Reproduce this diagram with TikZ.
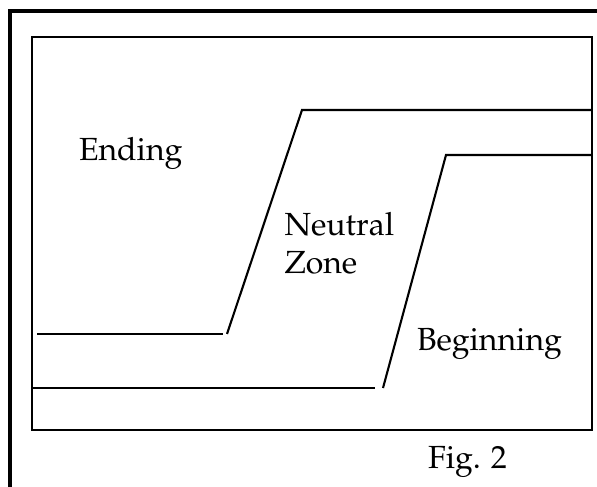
\documentclass[tikz,border=0pt]{standalone}
\usepackage[T1]{fontenc}
\usepackage{mathpazo}
\begin{document}
\begin{tikzpicture}[x=1pt,y=1pt]
\tikzset{
  frameline/.style={line width=3.8pt},
  boxline/.style={line width=1.9pt},
  zoneline/.style={line width=2.1pt},
  lbl/.style={font=\fontsize{32}{38}\selectfont, anchor=base west, inner sep=0pt, outer sep=0pt}
}
\useasboundingbox (0,0) rectangle (597,487);
% outer frame (partial)
\draw[frameline] (10,-5) -- (10,476) -- (602,476);
% inner box
\draw[boxline] (32,57) rectangle (592,450);
% Ending / Neutral boundary
\coordinate (a1) at (37,153);
\coordinate (a2) at (223,153);
\coordinate (a3) at (227,153);
\coordinate (a4) at (302,377);
\coordinate (a5) at (592,377);
\draw[zoneline] (a1) -- (a2);
\draw[zoneline, line join=miter] (a3) -- (a4) -- (a5);
% Neutral / Beginning boundary
\coordinate (b1) at (32,99);
\coordinate (b2) at (375,99);
\coordinate (b3) at (383,99);
\coordinate (b4) at (446,332);
\coordinate (b5) at (592,332);
\draw[zoneline] (b1) -- (b2);
\draw[zoneline, line join=miter] (b3) -- (b4) -- (b5);
% labels
\node[lbl] (ending) at (79,326) {Ending};
\node[lbl] (neutral) at (284.5,251.5) {Neutral};
\node[lbl] (zone) at (284.5,213) {Zone};
\node[lbl] (beginning) at (417,136) {Beginning};
\node[lbl] (fig) at (428,18) {Fig. 2};
\end{tikzpicture}
\end{document}
